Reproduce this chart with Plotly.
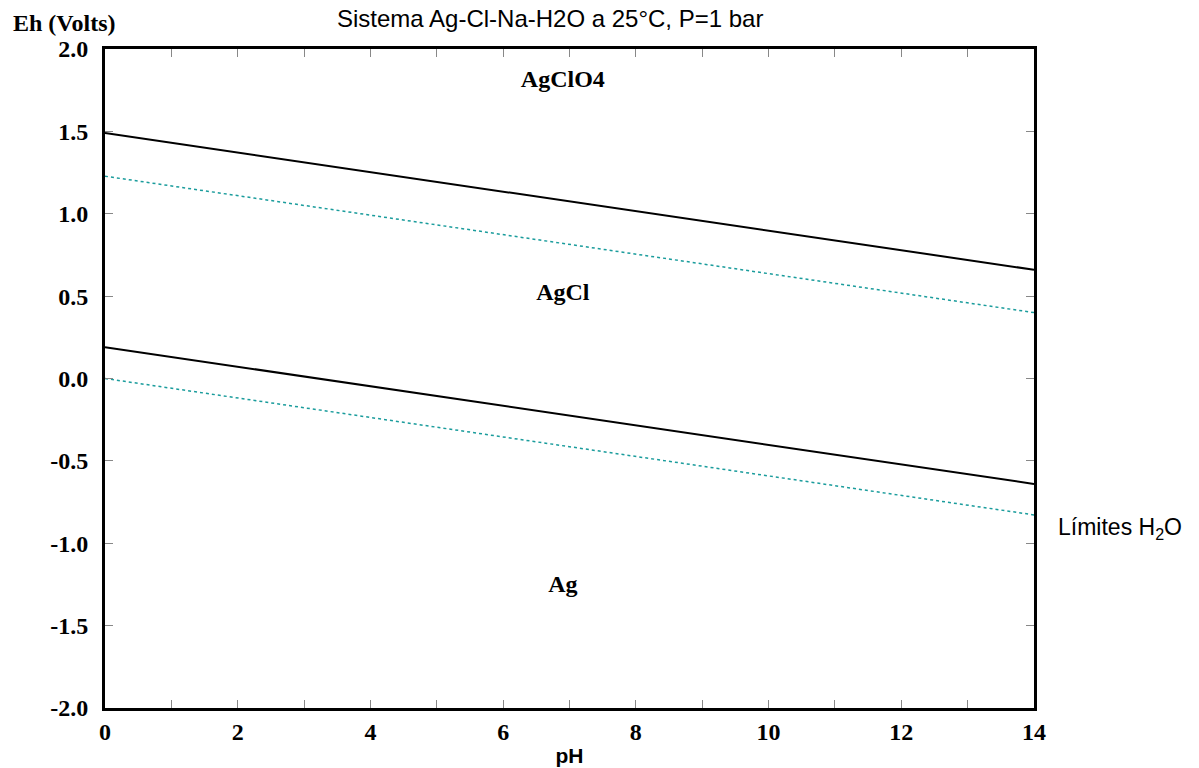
import plotly.graph_objects as go

# Data
ph = [0, 14]
upper_boundary = [1.49, 0.66]      # AgClO4 / AgCl
lower_boundary = [0.19, -0.64]     # AgCl / Ag
water_upper = [1.228, 0.400]       # O2/H2O
water_lower = [0.0, -0.828]        # H2O/H2

field_names = ["AgClO4", "AgCl", "Ag"]
field_ph = [6.9, 6.9, 6.9]
field_eh = [1.805, 0.51, -1.26]

x_ticks = [0, 2, 4, 6, 8, 10, 12, 14]
x_labels = ["0", "2", "4", "6", "8", "10", "12", "14"]
y_ticks = [-2.0, -1.5, -1.0, -0.5, 0.0, 0.5, 1.0, 1.5, 2.0]
y_labels = ["-2.0", "-1.5", "-1.0", "-0.5", "0.0", "0.5", "1.0", "1.5", "2.0"]

TEAL = "#1a9c9c"
SERIF = "Liberation Serif"
SANS = "Liberation Sans"

fig = go.Figure()
fig.add_trace(go.Scatter(x=ph, y=upper_boundary, mode="lines",
                         line=dict(color="black", width=2), showlegend=False, hoverinfo="skip"))
fig.add_trace(go.Scatter(x=ph, y=lower_boundary, mode="lines",
                         line=dict(color="black", width=2), showlegend=False, hoverinfo="skip"))
fig.add_trace(go.Scatter(x=ph, y=water_upper, mode="lines",
                         line=dict(color=TEAL, width=1.5, dash="dot"), showlegend=False, hoverinfo="skip"))
fig.add_trace(go.Scatter(x=ph, y=water_lower, mode="lines",
                         line=dict(color=TEAL, width=1.5, dash="dot"), showlegend=False, hoverinfo="skip"))
fig.add_trace(go.Scatter(x=field_ph, y=field_eh, mode="text", text=field_names,
                         textfont=dict(family=SERIF, size=24, color="black", weight="bold"),
                         showlegend=False, hoverinfo="skip"))

fig.update_xaxes(range=[0, 14], tickvals=x_ticks, ticktext=x_labels,
                 ticks="inside", ticklen=8, tickwidth=1, tickcolor="#888888",
                 minor=dict(dtick=1, tick0=0, ticks="inside", ticklen=8, tickwidth=1,
                            tickcolor="#888888", showgrid=False),
                 showline=True, linecolor="black", linewidth=3, mirror="allticks",
                 showgrid=False, zeroline=False,
                 tickfont=dict(family=SERIF, size=24, color="black", weight="bold"),
                 title=dict(text="pH", font=dict(family=SANS, size=21, color="black", weight="bold"),
                            standoff=5))
fig.update_yaxes(range=[-2, 2], tickvals=y_ticks, ticktext=y_labels,
                 ticks="inside", ticklen=8, tickwidth=1, tickcolor="#888888",
                 showline=True, linecolor="black", linewidth=3, mirror="allticks",
                 showgrid=False, zeroline=False, ticklabelstandoff=9,
                 tickfont=dict(family=SERIF, size=24, color="black", weight="bold"))

fig.add_annotation(text="Sistema Ag-Cl-Na-H2O a 25°C, P=1 bar", xref="paper", yref="paper",
                   x=0.479, y=1.0, yshift=31, xanchor="center", yanchor="middle", showarrow=False,
                   font=dict(family=SANS, size=24, color="black"))
fig.add_annotation(text="Eh (Volts)", xref="paper", yref="paper",
                   x=0, xshift=-94, y=1.0, yshift=26, xanchor="left", yanchor="middle", showarrow=False,
                   font=dict(family=SERIF, size=24, color="black", weight="bold"))
fig.add_annotation(text="Límites H<sub>2</sub>O", xref="paper", yref="y",
                   x=1.0, xshift=22, y=-0.91, xanchor="left", yanchor="middle", showarrow=False,
                   font=dict(family=SANS, size=23, color="black"))

fig.update_layout(width=1199, height=768, margin=dict(l=97, r=173, t=41, b=68),
                  plot_bgcolor="white", paper_bgcolor="white")

fig.write_html("out.html")
